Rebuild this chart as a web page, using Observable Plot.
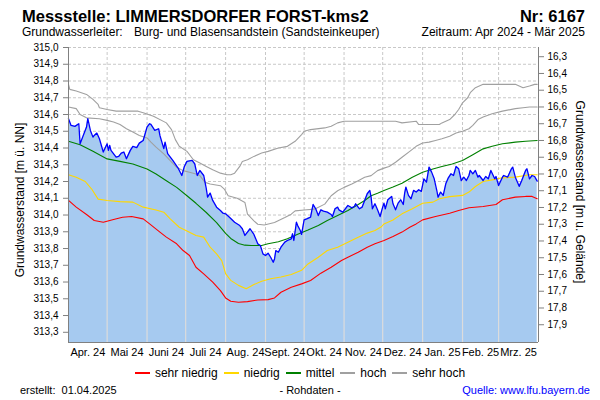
<!DOCTYPE html>
<html><head><meta charset="utf-8">
<script src="https://cdn.jsdelivr.net/npm/d3@7"></script>
<script src="https://cdn.jsdelivr.net/npm/@observablehq/plot@0.6"></script>
<style>
body{margin:0;background:#fff}
#wrap{position:relative;width:600px;height:400px;font-family:"Liberation Sans",Arial,sans-serif;color:#000;overflow:hidden;background:#fff}
.abs{position:absolute;white-space:pre;line-height:1}
#chart{position:absolute;left:0;top:0}
.leg{position:absolute;left:0;width:600px;top:367px;display:flex;justify-content:center;gap:6px;font-size:12px;line-height:1}
.leg .item{display:flex;align-items:center;gap:5px}
.leg .ln{display:inline-block;width:15px;height:2px}
</style></head><body>
<div id="wrap">
  <div class="abs" style="left:22px;top:8px;font-size:16.5px;font-weight:bold">Messstelle: LIMMERSDORFER FORST-kms2</div>
  <div class="abs" style="right:15px;top:8px;font-size:16.5px;font-weight:bold">Nr: 6167</div>
  <div class="abs" style="left:22px;top:26px;font-size:12px">Grundwasserleiter:</div>
  <div class="abs" style="left:134px;top:26px;font-size:12px">Burg- und Blasensandstein (Sandsteinkeuper)</div>
  <div class="abs" style="right:15px;top:26px;font-size:12px">Zeitraum: Apr 2024 - Mär 2025</div>
  <div id="chart"></div>
  <div class="abs" style="left:20px;top:200px;font-size:12px;transform:translate(-50%,-50%) rotate(-90deg)">Grundwasserstand [m ü. NN]</div>
  <div class="abs" style="left:580px;top:192px;font-size:12px;transform:translate(-50%,-50%) rotate(90deg)">Grundwasserstand [m u. Gelände]</div>
  <div class="leg" id="legend"></div>
  <div class="abs" style="left:20px;top:385px;font-size:11px">erstellt:  01.04.2025</div>
  <div class="abs" style="left:310px;top:385px;font-size:11px;transform:translateX(-50%)">- Rohdaten -</div>
  <div class="abs" style="right:10px;top:385px;font-size:11px;color:#0000ff">Quelle: www.lfu.bayern.de</div>
</div>
<script>
// ---- data (day offset from 2024-04-01, level in m ü. NN) ----
const sehrHoch = [[0,314.78],[1,314.75],[6,314.74],[14,314.72],[19,314.69],[23,314.66],[24,314.64],[30,314.63],[37,314.62],[48,314.62],[54,314.62],[58,314.61],[62,314.60],[66,314.59],[76,314.55],[80,314.51],[83,314.45],[86,314.41],[92,314.38],[97,314.33],[102,314.31],[107,314.29],[112,314.27],[118,314.25],[123,314.24],[126,314.24],[129,314.25],[133,314.29],[135,314.32],[139,314.33],[144,314.35],[150,314.37],[155,314.38],[163,314.40],[170,314.41],[176,314.44],[181,314.48],[183,314.50],[188,314.51],[199,314.52],[204,314.53],[209,314.55],[214,314.56],[225,314.56],[235,314.56],[245,314.56],[254,314.56],[259,314.55],[270,314.56],[272,314.54],[288,314.54],[290,314.55],[296,314.57],[300,314.60],[303,314.63],[306,314.67],[310,314.70],[312,314.73],[316,314.76],[322,314.78],[327,314.78],[342,314.78],[347,314.78],[353,314.76],[358,314.77],[362,314.78],[364,314.78]];
const hoch = [[0,314.645],[6,314.635],[9,314.60],[14,314.58],[24,314.575],[30,314.565],[35,314.555],[40,314.54],[45,314.515],[50,314.495],[55,314.475],[61,314.46],[64,314.435],[68,314.405],[74,314.365],[79,314.325],[84,314.285],[89,314.265],[94,314.255],[99,314.245],[102,314.235],[106,314.195],[110,314.185],[118,314.175],[121,314.155],[124,314.115],[131,314.10],[137,314.075],[139,314.005],[144,313.965],[147,313.945],[152,313.94],[160,313.955],[168,313.985],[173,314.005],[176,314.025],[183,314.03],[191,314.035],[199,314.065],[204,314.115],[209,314.145],[214,314.165],[220,314.185],[225,314.205],[230,314.225],[235,314.235],[240,314.265],[245,314.28],[249,314.29],[254,314.315],[259,314.345],[265,314.38],[270,314.41],[275,314.43],[280,314.435],[285,314.445],[290,314.455],[296,314.47],[301,314.49],[306,314.50],[311,314.515],[314,314.535],[318,314.57],[322,314.585],[329,314.605],[337,314.62],[347,314.635],[353,314.64],[358,314.645],[364,314.645]];
const mittel = [[0,314.44],[9,314.42],[19,314.38],[30,314.335],[40,314.32],[50,314.305],[61,314.275],[68,314.245],[76,314.205],[84,314.165],[92,314.115],[99,314.07],[107,314.015],[115,313.955],[122,313.89],[126,313.86],[132,313.83],[137,313.82],[142,313.818],[150,313.818],[155,313.828],[163,313.84],[170,313.858],[178,313.885],[186,313.91],[194,313.937],[201,313.967],[209,313.997],[217,314.027],[225,314.063],[230,314.087],[235,314.115],[240,314.13],[245,314.147],[252,314.167],[259,314.19],[267,314.225],[275,314.255],[283,314.275],[290,314.29],[298,314.305],[306,314.325],[314,314.36],[322,314.395],[329,314.41],[337,314.425],[347,314.435],[355,314.44],[364,314.445]];
const niedrig = [[0,314.24],[6,314.225],[13,314.20],[18,314.155],[23,314.095],[30,314.087],[40,314.08],[50,314.077],[58,314.047],[68,314.03],[74,314.017],[79,313.977],[86,313.927],[92,313.904],[99,313.878],[105,313.868],[110,313.808],[115,313.768],[119,313.728],[122,313.65],[126,313.61],[132,313.58],[138,313.56],[144,313.585],[150,313.605],[157,313.62],[165,313.63],[173,313.645],[181,313.67],[186,313.708],[194,313.748],[201,313.788],[209,313.808],[217,313.838],[225,313.868],[232,313.892],[238,313.908],[243,313.93],[245,313.947],[252,313.97],[259,314.007],[267,314.037],[275,314.07],[283,314.077],[288,314.097],[296,314.11],[306,314.117],[311,314.137],[316,314.17],[322,314.20],[329,314.21],[337,314.222],[347,314.226],[358,314.24],[364,314.24]];
const sehrNiedrig = [[0,314.087],[6,314.047],[14,314.003],[20,313.967],[27,313.957],[35,313.973],[42,313.987],[49,313.991],[58,313.977],[63,313.947],[71,313.898],[76,313.868],[84,313.828],[89,313.788],[94,313.758],[99,313.688],[105,313.649],[112,313.599],[118,313.549],[122,313.505],[126,313.485],[132,313.479],[139,313.483],[147,313.493],[155,313.495],[160,313.505],[165,313.539],[173,313.569],[181,313.589],[188,313.609],[196,313.653],[204,313.688],[212,313.728],[217,313.748],[225,313.778],[232,313.808],[238,313.828],[245,313.848],[252,313.872],[259,313.898],[265,313.927],[270,313.947],[275,313.971],[285,313.991],[296,314.011],[303,314.027],[311,314.043],[322,314.051],[332,314.063],[337,314.091],[347,314.107],[355,314.111],[360,314.111],[364,314.097]];
const messwerte = [[0,314.575],[2,314.535],[5,314.529],[8,314.545],[9,314.425],[11,314.465],[14,314.525],[15,314.575],[17,314.505],[19,314.465],[20,314.475],[22,314.489],[24,314.455],[27,314.376],[30,314.425],[31,314.386],[32,314.416],[33,314.386],[37,314.346],[39,314.35],[41,314.37],[43,314.376],[45,314.336],[48,314.386],[50,314.41],[53,314.402],[55,314.429],[58,314.445],[61,314.525],[63,314.545],[64,314.541],[67,314.505],[70,314.515],[71,314.475],[74,314.396],[75,314.435],[77,314.366],[81,314.326],[85,314.282],[88,314.236],[90,314.29],[92,314.32],[96,314.326],[98,314.306],[100,314.236],[102,314.266],[105,314.236],[107,314.157],[108,314.107],[110,314.131],[112,314.087],[115,314.047],[118,314.027],[120,314.011],[122,314.007],
[125,313.987],[129,313.957],[133,313.937],[135,313.918],[137,313.878],[139,313.898],[141,313.918],[144,313.884],[147,313.828],[149,313.818],[151,313.768],[153,313.758],[155,313.772],[157,313.748],[159,313.718],[160,313.738],[161,313.788],[163,313.778],[165,313.808],[168,313.838],[170,313.848],[173,313.858],[174,313.888],[175,313.848],[177,313.957],[178,313.937],[180,313.908],[181,313.884],[183,313.971],[185,313.977],[188,313.987],[189,314.027],[190,314.063],[192,314.037],[194,313.997],[196,314.031],[198,314.023],[201,314.017],[204,314.003],[205,313.991],[207,314.037],[209,314.047],[210,314.031],[213,314.017],[215,314.037],[217,314.057],[220,314.043],[222,314.051],[223,314.067],[226,314.037],[228,314.047],[230,314.087],[232,314.127],[234,314.147],[235,314.107],[236,314.037],[238,314.067],[240,314.031],[242,313.991],[244,314.047],[245,314.071],
[246,314.037],[248,314.091],[251,314.111],[252,314.067],[254,314.031],[256,314.071],[258,314.091],[260,314.063],[261,314.127],[262,314.167],[264,314.117],[266,314.097],[268,314.147],[270,314.137],[272,314.151],[274,314.141],[276,314.216],[278,314.196],[280,314.286],[282,314.256],[284,314.216],[286,314.147],[287,314.107],[289,314.137],[291,314.117],[293,314.186],[295,314.222],[297,314.246],[299,314.236],[301,314.29],[303,314.276],[305,314.206],[307,314.226],[309,314.206],[311,314.236],[312,314.266],[314,314.246],[316,314.266],[318,314.226],[319,314.236],[322,314.206],[324,314.23],[326,314.216],[328,314.266],[331,314.216],[332,314.23],[334,314.176],[337,314.226],[338,314.236],[341,314.226],[344,314.276],[345,314.286],[347,314.226],[350,314.171],[352,314.206],[355,314.266],[356,314.276],[358,314.216],[360,314.236],[362,314.23],[363,314.216],[364,314.202]];
const monthLabels = ["Apr. 24","Mai 24","Juni 24","Juli 24","Aug. 24","Sept. 24","Okt. 24","Nov. 24","Dez. 24","Jan. 25","Feb. 25","Mrz. 25"];
const levelTicks = [313.3,313.4,313.5,313.6,313.7,313.8,313.9,314.0,314.1,314.2,314.3,314.4,314.5,314.6,314.7,314.8,314.9,315.0];
const depthTicks = [16.3,16.4,16.5,16.6,16.7,16.8,16.9,17.0,17.1,17.2,17.3,17.4,17.5,17.6,17.7,17.8,17.9];
const GROUND = 331.245; // Geländehöhe m ü. NN
const Y_MIN = 313.239, Y_MAX = 315.0;
const seriesInfo = [
  {name:"sehr niedrig", data:sehrNiedrig, color:"#ff0000"},
  {name:"niedrig", data:niedrig, color:"#ffd700"},
  {name:"mittel", data:mittel, color:"#008000"},
  {name:"hoch", data:hoch, color:"#a0a0a0"},
  {name:"sehr hoch", data:sehrHoch, color:"#a0a0a0"}
];

// ---- build ----
const START = Date.UTC(2024,3,1);
const toDate = d => new Date(START + d*86400000);
const rows = arr => arr.map(([d,v]) => ({date: toDate(d), day: d, v}));
const monthStarts = d3.range(13).map(m => new Date(Date.UTC(2024,3+m,1)));
const midMonths = d3.range(12).map(m => new Date((+monthStarts[m] + +monthStarts[m+1]) / 2));
const meas = rows(messwerte);
const interp = t => {
  const i = d3.bisector(r => +r.date).left(meas, +t);
  if (i <= 0) return meas[0].v;
  if (i >= meas.length) return meas[meas.length-1].v;
  const a = meas[i-1], b = meas[i];
  const f = (+t - +a.date) / (+b.date - +a.date);
  return a.v + f*(b.v - a.v);
};
const monthRules = monthStarts.slice(1,12).map(t => ({date:t, v: interp(t)}));
const comma = v => v.toFixed(1).replace(".", ",");

const chart = Plot.plot({
  width: 600, height: 400,
  marginTop: 47, marginBottom: 58, marginLeft: 68, marginRight: 62,
  style: {fontFamily: '"Liberation Sans", Arial, sans-serif', fontSize: "10px", background: "transparent", color: "#000"},
  x: {type: "utc", domain: [monthStarts[0], monthStarts[12]]},
  y: {domain: [Y_MIN, Y_MAX]},
  marks: [
    Plot.gridY(levelTicks, {stroke: "#c8c8c8", strokeOpacity: 1, strokeDasharray: "3,2"}),
    Plot.gridX(monthStarts.slice(1,12), {stroke: "#c8c8c8", strokeOpacity: 1, strokeDasharray: "3,2"}),
    Plot.areaY(meas, {x: "date", y1: () => Y_MIN, y2: "v", fill: "#a6caf0"}),
    Plot.ruleX(monthRules, {x: "date", y1: () => Y_MIN, y2: "v", stroke: "#dcdcdc", strokeWidth: 1.2}),
    ...seriesInfo.slice().reverse().map(s => Plot.line(rows(s.data), {x: "date", y: "v", stroke: s.color, strokeWidth: 1.1})),
    Plot.line(meas, {x: "date", y: "v", stroke: "#0000ff", strokeWidth: 1.3}),
    Plot.ruleY([Y_MIN], {stroke: "#808080"}),
    Plot.ruleX([monthStarts[0], monthStarts[12]], {stroke: "#808080"}),
    Plot.axisY({ticks: levelTicks, tickFormat: comma, tickSize: 5, tickPadding: 5, label: null, stroke: "#808080", fill: "#000"}),
    Plot.axisY({anchor: "right", ticks: depthTicks.map(d => GROUND - d), tickFormat: v => comma(GROUND - v), tickSize: 5, tickPadding: 4, label: null, stroke: "#808080", fill: "#000"}),
    Plot.axisX({ticks: midMonths, tickFormat: d => monthLabels[midMonths.findIndex(m => +m === +d)], tickSize: 0, tickPadding: 6, label: null, fontSize: 11, fill: "#000"})
  ]
});
document.getElementById("chart").appendChild(chart);

const leg = document.getElementById("legend");
for (const s of seriesInfo) {
  const it = document.createElement("span");
  it.className = "item";
  const ln = document.createElement("span");
  ln.className = "ln";
  ln.style.background = s.color;
  const tx = document.createElement("span");
  tx.textContent = s.name;
  it.appendChild(ln); it.appendChild(tx);
  leg.appendChild(it);
}
</script>
</body></html>
